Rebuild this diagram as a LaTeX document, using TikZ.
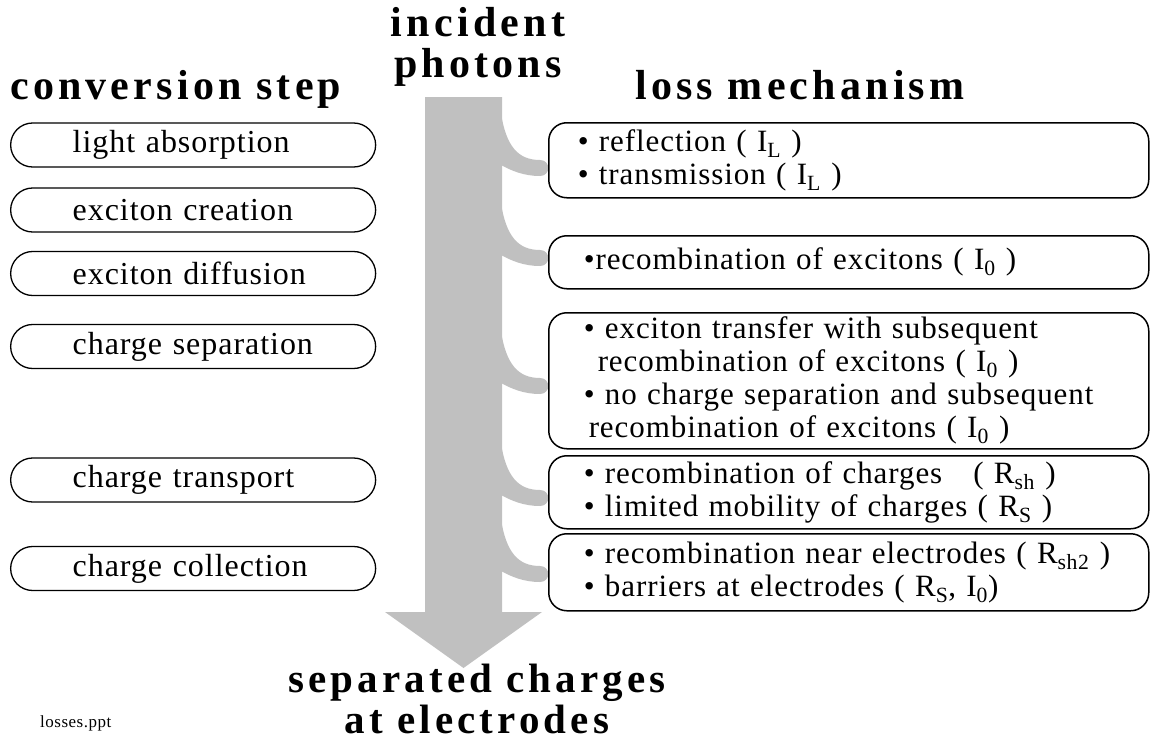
\documentclass[tikz,border=0pt]{standalone}
\usepackage{fontspec}
\setmainfont{Liberation Serif}[LetterSpace=3]
\newfontfamily\headfont{Liberation Serif}[LetterSpace=10]
\definecolor{arrowgray}{RGB}{192,192,192}
\tikzset{
  head/.style={inner sep=0pt, font=\headfont\bfseries\fontsize{42}{42}\selectfont},
  stepoval/.style={draw, line width=1.3pt, rounded corners=22pt, minimum width=365pt,
    minimum height=44pt, anchor=west, inner xsep=0pt, text width=365pt, align=left,
    font=\fontsize{32}{32}\selectfont},
  lossbox/.style={draw, line width=1.5pt, rounded corners=18pt, anchor=north west,
    minimum width=600pt, text width=600pt, inner xsep=0pt, align=left,
    font=\fontsize{31}{33}\selectfont},
  branch/.style={fill=arrowgray, draw=none}
}
\begin{document}
\begin{tikzpicture}[x=1pt,y=-1pt]
\useasboundingbox (0,0) rectangle (1152,744);
% big arrow
\fill[arrowgray] (425,97) -- (502,97) -- (502,612) -- (542,612) -- (463.5,668)
  -- (385,612) -- (425,612) -- cycle;
% branches
\foreach \yc in {168,258,386,498,574} {
  \fill[branch] (501,{\yc-55}) .. controls (506,{\yc-22}) and (518,{\yc-8}) .. (540,{\yc-8})
    .. controls (551,{\yc-8}) and (551,{\yc+8}) .. (540,{\yc+8})
    .. controls (524,{\yc+8}) and (512,{\yc+3}) .. (501,{\yc-3}) -- cycle;
}
% headings
\node[head, anchor=base] (inc) at (478,36) {incident};
\node[head, anchor=base] (pho) at (478,77) {photons};
\node[head, anchor=base west] (conv) at (10,99) {conversion step};
\node[head, anchor=base west] (loss) at (635,99) {loss mechanism};
\node[head, anchor=base, font=\headfont\bfseries\fontsize{41}{41}\selectfont] (sep) at (477,692) {separated charges};
\node[head, anchor=base, font=\headfont\bfseries\fontsize{41}{41}\selectfont] (atel) at (477,733) {at electrodes};
\node[anchor=base west, inner sep=0pt, font=\fontsize{17}{17}\selectfont] (file) at (40,727) {losses.ppt};
% conversion steps
\node[stepoval] (s1) at (10,145) {\hspace*{62pt}light absorption};
\node[stepoval] (s2) at (10,210) {\hspace*{62pt}exciton creation};
\node[stepoval] (s3) at (10,273.5) {\hspace*{62pt}exciton diffusion};
\node[stepoval] (s4) at (10,346.5) {\hspace*{62pt}charge separation};
\node[stepoval] (s5) at (10,480) {\hspace*{62pt}charge transport};
\node[stepoval] (s6) at (10,568.5) {\hspace*{62pt}charge collection};
% loss mechanisms
\node[lossbox, minimum height=75pt] (l1) at (548,122)
  {\hspace*{29pt}• reflection ( I\textsubscript{L} )\\
   \hspace*{29pt}• transmission ( I\textsubscript{L} )};
\node[lossbox, minimum height=53pt] (l2) at (548,235)
  {\hspace*{35pt}•recombination of excitons ( I\textsubscript{0} )};
\node[lossbox, minimum height=136pt] (l3) at (548,312)
  {\hspace*{35pt}• exciton transfer with subsequent\\
   \hspace*{49pt}recombination of excitons ( I\textsubscript{0} )\\
   \hspace*{35pt}• no charge separation and subsequent\\
   \hspace*{40pt}recombination of excitons ( I\textsubscript{0} )};
\node[lossbox, minimum height=73pt] (l4) at (548,455)
  {\hspace*{35pt}• recombination of charges\quad ( R\textsubscript{sh} )\\
   \hspace*{35pt}• limited mobility of charges ( R\textsubscript{S} )};
\node[lossbox, minimum height=77pt] (l5) at (548,533)
  {\hspace*{35pt}• recombination near electrodes ( R\textsubscript{sh2} )\\
   \hspace*{35pt}• barriers at electrodes ( R\textsubscript{S}, I\textsubscript{0})};
\end{tikzpicture}
\end{document}
